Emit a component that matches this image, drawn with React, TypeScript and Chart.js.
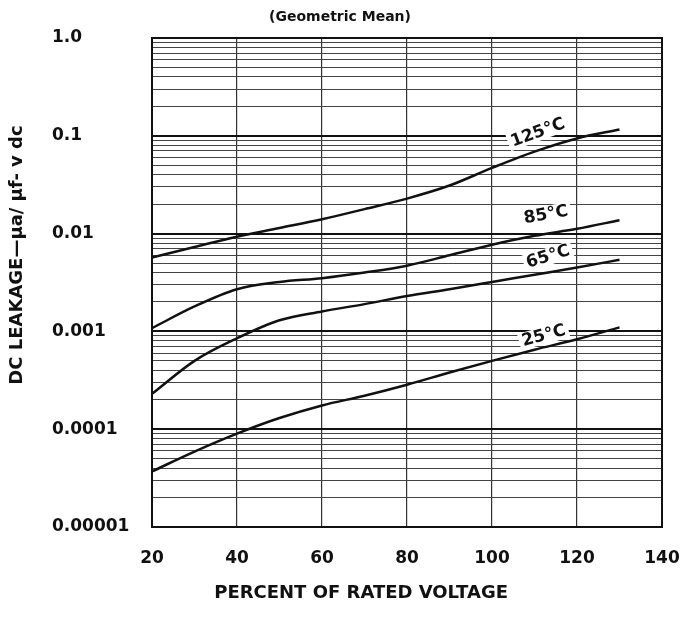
import React, { useEffect, useRef } from "react";
import { Chart, registerables } from "chart.js";

Chart.register(...registerables);

// ---- data ----
const voltage = [20, 30, 40, 50, 60, 70, 80, 90, 100, 110, 120, 130];
const leak125 = [0.0057, 0.0073, 0.0093, 0.0114, 0.014, 0.0178, 0.0228, 0.031, 0.047, 0.069, 0.094, 0.116];
const leak85 = [0.00108, 0.0018, 0.0027, 0.0032, 0.0035, 0.004, 0.0047, 0.006, 0.0077, 0.0095, 0.0112, 0.0137];
const leak65 = [0.00023, 0.0005, 0.00085, 0.0013, 0.0016, 0.0019, 0.0023, 0.0027, 0.0032, 0.0038, 0.0045, 0.0054];
const leak25 = [0.000037, 0.000059, 0.00009, 0.00013, 0.000175, 0.00022, 0.000285, 0.00038, 0.0005, 0.00065, 0.00083, 0.0011];

const seriesNames = ["125°C", "85°C", "65°C", "25°C"];
const seriesValues = [leak125, leak85, leak65, leak25];

const yDecades = [0.00001, 0.0001, 0.001, 0.01, 0.1, 1];
const yTickLabels = ["0.00001", "0.0001", "0.001", "0.01", "0.1", "1.0"];
const minorMultipliers = [2, 3, 4, 5, 6, 7, 8, 9];
const xTicks = [20, 40, 60, 80, 100, 120, 140];

const titleText = "(Geometric Mean)";
const xTitle = "PERCENT OF RATED VOLTAGE";
const yTitle = "DC LEAKAGE\u2014\u03bca/ \u03bcf- v dc";

// curve label anchors (data units) and angles
const labelX = [110.8, 112.7, 113.2, 112.2];
const labelY = [0.107, 0.0155, 0.00577, 0.000897];
const labelAngle = [-20, -10, -17, -15];

const FAMILY = "'DejaVu Sans', sans-serif";

function buildYTicks() {
  const out: number[] = [];
  for (let i = 0; i < yDecades.length - 1; i++) {
    const d = yDecades[i];
    out.push(d);
    minorMultipliers.forEach((m) => out.push(parseFloat((d * m).toPrecision(6))));
  }
  out.push(yDecades[yDecades.length - 1]);
  return out;
}

function decadeIndex(v: number) {
  return yDecades.findIndex((d) => Math.abs(v / d - 1) < 1e-6);
}

const annotPlugin = {
  id: "annot",
  afterDatasetsDraw(chart: any) {
    const { ctx, scales } = chart;
    ctx.save();
    ctx.font = `bold 17px ${FAMILY}`;
    ctx.textAlign = "center";
    ctx.textBaseline = "middle";
    seriesNames.forEach((name, i) => {
      const x = scales.x.getPixelForValue(labelX[i]);
      const y = scales.y.getPixelForValue(labelY[i]);
      ctx.save();
      ctx.translate(x, y);
      ctx.rotate((labelAngle[i] * Math.PI) / 180);
      const w = ctx.measureText(name).width;
      ctx.fillStyle = "#ffffff";
      ctx.fillRect(-w / 2 - 3, -9, w + 6, 17);
      ctx.fillStyle = "#111";
      ctx.fillText(name, 0, 0);
      ctx.restore();
    });
    ctx.restore();
  },
  afterDraw(chart: any) {
    const { ctx, chartArea } = chart;
    const { left, top, right, bottom } = chartArea;
    ctx.save();
    ctx.strokeStyle = "#111";
    ctx.lineWidth = 2;
    ctx.strokeRect(left, top, right - left, bottom - top);

    ctx.fillStyle = "#111";
    ctx.textAlign = "center";
    ctx.textBaseline = "middle";
    ctx.font = `bold 14px ${FAMILY}`;
    ctx.fillText(titleText, chart.width / 2, 17);

    ctx.font = `bold 18px ${FAMILY}`;
    ctx.fillText(xTitle, left + 0.41 * (right - left), bottom + 66);

    ctx.save();
    ctx.translate(left - 135, top + 217);
    ctx.rotate(-Math.PI / 2);
    ctx.font = `bold 18px ${FAMILY}`;
    ctx.fillText(yTitle, 0, 0);
    ctx.restore();
    ctx.restore();
  },
};

export default function App() {
  const ref = useRef<HTMLCanvasElement>(null);
  useEffect(() => {
    document.body.style.margin = "0";
    const yTickValues = buildYTicks();
    const chart = new Chart(ref.current as HTMLCanvasElement, {
      type: "line",
      data: {
        datasets: seriesValues.map((vals, i) => ({
          label: seriesNames[i],
          data: voltage.map((x, j) => ({ x, y: vals[j] })),
          borderColor: "#111",
          borderWidth: 2.5,
          pointRadius: 0,
          fill: false,
          cubicInterpolationMode: "monotone" as const,
        })),
      },
      options: {
        animation: false,
        responsive: true,
        maintainAspectRatio: false,
        layout: { padding: { top: 38, left: 52, right: 18, bottom: 0 } },
        plugins: {
          legend: { display: false },
          tooltip: { enabled: false },
          title: { display: false },
        },
        scales: {
          x: {
            type: "linear",
            min: 20,
            max: 140,
            afterBuildTicks: (s: any) => {
              s.ticks = xTicks.map((v) => ({ value: v }));
            },
            ticks: {
              color: "#111",
              padding: 21,
              font: { family: FAMILY, size: 17, weight: "bold" },
            },
            grid: { color: "#333", lineWidth: 1.2, drawTicks: false },
            border: { display: false },
            afterFit: (s: any) => {
              s.height = 102;
              s.paddingLeft = 0;
              s.paddingRight = 0;
            },
          },
          y: {
            type: "logarithmic",
            min: 0.00001,
            max: 1,
            afterBuildTicks: (s: any) => {
              s.ticks = yTickValues.map((v) => ({ value: v }));
            },
            ticks: {
              autoSkip: false,
              crossAlign: "far",
              color: "#111",
              font: { family: FAMILY, size: 17, weight: "bold" },
              callback: (v: any) => {
                const k = decadeIndex(Number(v));
                return k >= 0 ? yTickLabels[k] : "";
              },
            },
            grid: {
              drawTicks: false,
              color: (c: any) => (c.tick && decadeIndex(c.tick.value) >= 0 ? "#111" : "#444"),
              lineWidth: (c: any) => (c.tick && decadeIndex(c.tick.value) >= 0 ? 2 : 1),
            },
            border: { display: false },
            afterFit: (s: any) => {
              s.width = 100;
              s.paddingTop = 0;
              s.paddingBottom = 0;
            },
          },
        },
      },
      plugins: [annotPlugin],
    });
    return () => chart.destroy();
  }, []);
  return (
    <div style={{ width: 680, height: 629, position: "relative" }}>
      <canvas ref={ref} />
    </div>
  );
}
